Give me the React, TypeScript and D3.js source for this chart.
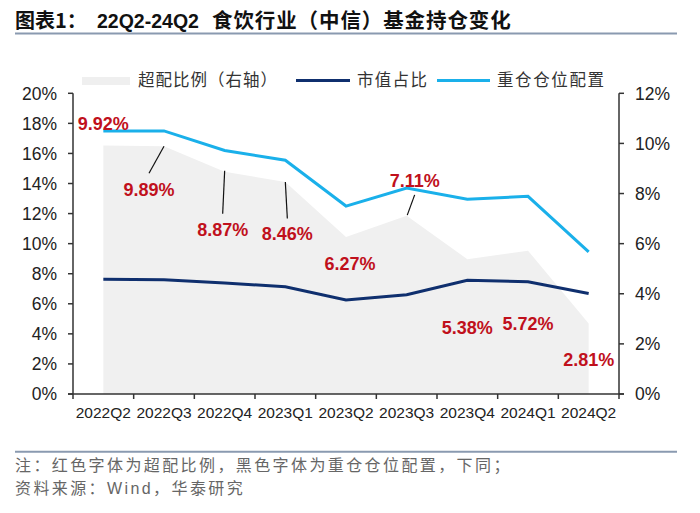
import React from "react";
import * as d3 from "d3";

const categories = ["2022Q2", "2022Q3", "2022Q4", "2023Q1", "2023Q2", "2023Q3", "2023Q4", "2024Q1", "2024Q2"];
const overweight = [9.92, 9.89, 8.87, 8.46, 6.27, 7.11, 5.38, 5.72, 2.81];
const marketShare = [7.64, 7.6, 7.38, 7.13, 6.25, 6.6, 7.57, 7.46, 6.69];
const heavyPosition = [17.5, 17.5, 16.2, 15.55, 12.5, 13.7, 12.95, 13.15, 9.45];
const leftTicks = [0, 2, 4, 6, 8, 10, 12, 14, 16, 18, 20];
const rightTicks = [0, 2, 4, 6, 8, 10, 12];
// label offsets (dx, dy) relative to the area point, plus optional leader line
const labelOffsets: [number, number][] = [
  [0, -22], [-15, 43], [-2, 57.5], [2, 52], [4, 27], [8, -35], [0, 68], [0, 72.5], [0, 35.5],
];
const leaders: ([number, number, number, number] | null)[] = [
  null, [0, 0, -15, 27], [0, -1, -2, 42], [0, 0, 2, 36.5], null, [8, -21, 0.6, -0.7], null, null, null,
];

const W = 700, H = 513;
const left = 73, right = 619, top = 93.3, bottom = 394;
const NUM = "'Liberation Sans', Arial, sans-serif";
const CJK = "'Noto Sans CJK SC', sans-serif";

export default function App() {
  const x = d3.scaleBand<string>().domain(categories).range([left, right]);
  const cx = (c: string) => (x(c) as number) + x.bandwidth() / 2;
  const yL = d3.scaleLinear().domain([0, 20]).range([bottom, top]);
  const yR = d3.scaleLinear().domain([0, 12]).range([bottom, top]);

  const area = d3.area<number>()
    .x((_, i) => cx(categories[i]))
    .y0(yR(0))
    .y1((d) => yR(d));
  const lineL = d3.line<number>()
    .x((_, i) => cx(categories[i]))
    .y((d) => yL(d));

  const tickPositions = [...categories.map((c) => x(c) as number), right];

  return (
    <svg width={W} height={H} style={{ position: "absolute", left: 0, top: 0, background: "#fff" }}>
      <text y={28} fontWeight="bold" fill="#111">
        <tspan x={15} fontFamily={CJK} fontSize={20}>图表1：</tspan>
        <tspan x={97} fontFamily={NUM} fontSize={19.5}>22Q2-24Q2</tspan>
        <tspan x={212} fontFamily={CJK} fontSize={20.5} letterSpacing={0.9}>食饮行业（中信）基金持仓变化</tspan>
      </text>
      <line x1={15} x2={677} y1={33.5} y2={33.5} stroke="#8a9ab0" strokeWidth={2} />

      {/* legend */}
      <rect x={82} y={77} width={48} height={8} fill="#efefef" />
      <text x={138} y={86} fontFamily={CJK} fontSize={16.5} fill="#333" letterSpacing={1}>超配比例（右轴）</text>
      <line x1={296} x2={350} y1={80.5} y2={80.5} stroke="#0f2f6e" strokeWidth={3} />
      <text x={357} y={86} fontFamily={CJK} fontSize={16.5} fill="#333" letterSpacing={1.3}>市值占比</text>
      <line x1={437} x2={490} y1={80.5} y2={80.5} stroke="#1ab0ea" strokeWidth={3} />
      <text x={497} y={86} fontFamily={CJK} fontSize={16.5} fill="#333" letterSpacing={1.6}>重仓仓位配置</text>

      <path d={area(overweight) || ""} fill="#f0f0f0" />
      <path d={lineL(marketShare) || ""} fill="none" stroke="#0f2f6e" strokeWidth={3} />
      <path d={lineL(heavyPosition) || ""} fill="none" stroke="#1ab0ea" strokeWidth={3} />

      {/* axes */}
      <line x1={left} x2={left} y1={top} y2={bottom} stroke="#333" strokeWidth={1.5} />
      <line x1={right} x2={right} y1={top} y2={bottom} stroke="#333" strokeWidth={1.5} />
      <line x1={left - 5} x2={right + 5} y1={bottom} y2={bottom} stroke="#333" strokeWidth={1.5} />
      {leftTicks.map((t) => (
        <g key={"l" + t}>
          <line x1={left - 5} x2={left} y1={yL(t)} y2={yL(t)} stroke="#333" strokeWidth={1.5} />
          <text x={57} y={yL(t)} dy="0.36em" textAnchor="end" fontFamily={NUM} fontSize={17.5} fill="#222">{t}%</text>
        </g>
      ))}
      {rightTicks.map((t) => (
        <g key={"r" + t}>
          <line x1={right} x2={right + 5} y1={yR(t)} y2={yR(t)} stroke="#333" strokeWidth={1.5} />
          <text x={635} y={yR(t)} dy="0.36em" fontFamily={NUM} fontSize={17.5} fill="#222">{t}%</text>
        </g>
      ))}
      {tickPositions.map((p, i) => (
        <line key={"x" + i} x1={p} x2={p} y1={bottom} y2={bottom + 5} stroke="#333" strokeWidth={1.5} />
      ))}
      {categories.map((c) => (
        <text key={c} x={cx(c)} y={412} dy="0.36em" textAnchor="middle" fontFamily={NUM} fontSize={15.5} fill="#222">{c}</text>
      ))}

      {/* overweight labels */}
      {overweight.map((v, i) => {
        const px = cx(categories[i]);
        const py = yR(v);
        const [dx, dy] = labelOffsets[i];
        const ld = leaders[i];
        return (
          <g key={"lab" + i}>
            {ld && (
              <line x1={px + ld[0]} y1={py + ld[1]} x2={px + ld[2]} y2={py + ld[3]} stroke="#111" strokeWidth={1.2} />
            )}
            <text x={px + dx} y={py + dy} dy="0.36em" textAnchor="middle" fontFamily={NUM} fontWeight="bold" fontSize={18} fill="#c0101c">
              {v.toFixed(2)}%
            </text>
          </g>
        );
      })}

      <line x1={15} x2={677} y1={451.7} y2={451.7} stroke="#8a9ab0" strokeWidth={2} />
      <text x={15} y={470.5} fontFamily={CJK} fontSize={16} fill="#666" letterSpacing={2.4}>注：红色字体为超配比例，黑色字体为重仓仓位配置，下同；</text>
      <text x={15} y={494} fontFamily={CJK} fontSize={16} fill="#666" letterSpacing={2.4}>资料来源：<tspan fontFamily={NUM}>Wind</tspan>，华泰研究</text>
    </svg>
  );
}
